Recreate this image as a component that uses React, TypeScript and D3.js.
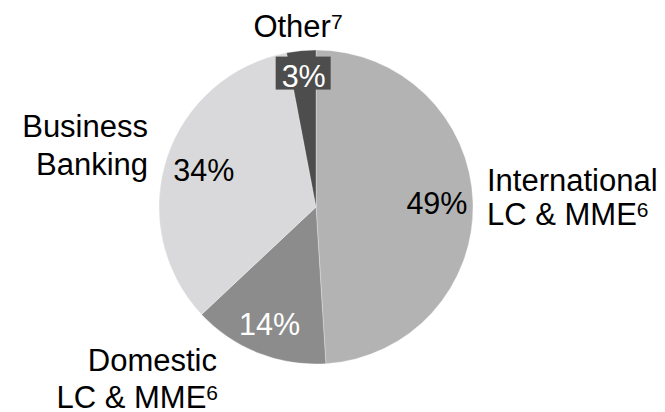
import React from "react";
import * as d3 from "d3";

// Segment share of the business, in drawing order (clockwise from 12 o'clock)
const segments = ["International LC & MME", "Domestic LC & MME", "Business Banking", "Other"];
const shares = [49, 14, 34, 3];
const sliceColors = ["#b3b3b3", "#8c8c8c", "#d9d9db", "#4d4d4d"];
const valueColors = ["#000000", "#ffffff", "#000000", "#ffffff"];

const W = 665;
const H = 412;
const cx = 316;
const cy = 207;
const R = 157;
const FONT = "'Liberation Sans', Arial, Helvetica, sans-serif";

// Distance from the centre at which each percentage label sits
const valueRadius = [121, 126, 118, 131];

export default function App() {
  const pie = d3
    .pie<number>()
    .sort(null)
    .value((d) => d)
    .startAngle(0)
    .endAngle(2 * Math.PI);
  const arcs = pie(shares);
  const arcGen = d3.arc<d3.PieArcDatum<number>>().innerRadius(0).outerRadius(R);

  const labelPos = (a: d3.PieArcDatum<number>, i: number) => {
    const mid = (a.startAngle + a.endAngle) / 2;
    return [Math.sin(mid) * valueRadius[i], -Math.cos(mid) * valueRadius[i]];
  };

  const sup = (ch: string) => (
    <tspan fontSize={21} dy={-8}>
      {ch}
    </tspan>
  );

  return (
    <svg
      width={W}
      height={H}
      style={{ position: "absolute", left: 0, top: 0, background: "#fff" }}
      fontFamily={FONT}
    >
      <g transform={`translate(${cx},${cy})`}>
        {arcs.map((a, i) => (
          <path key={segments[i]} d={arcGen(a) || ""} fill={sliceColors[i]} stroke="#ffffff" strokeWidth={0.3} />
        ))}
        {arcs.map((a, i) => {
          const [x, y] = labelPos(a, i);
          const text = `${shares[i]}%`;
          return (
            <g key={`v-${segments[i]}`}>
              {i === 3 && (
                <rect x={x - 28} y={y - 20} width={55} height={33} fill={sliceColors[3]} />
              )}
              <text
                x={x}
                y={y + 10.5}
                textAnchor="middle"
                fontSize={30.5}
                fill={valueColors[i]}
              >
                {text}
              </text>
            </g>
          );
        })}
      </g>

      {/* Segment names */}
      <g fontSize={31} fill="#000">
        <text x={298} y={37} textAnchor="middle">
          Other{sup("7")}
        </text>
        <text x={148} y={137} textAnchor="end">
          Business
        </text>
        <text x={148} y={175} textAnchor="end">
          Banking
        </text>
        <text x={487} y={191} textAnchor="start">
          International
        </text>
        <text x={487} y={225} textAnchor="start">
          LC &amp; MME{sup("6")}
        </text>
        <text x={217} y={371} textAnchor="end">
          Domestic
        </text>
        <text x={218} y={408} textAnchor="end">
          LC &amp; MME{sup("6")}
        </text>
      </g>
    </svg>
  );
}
